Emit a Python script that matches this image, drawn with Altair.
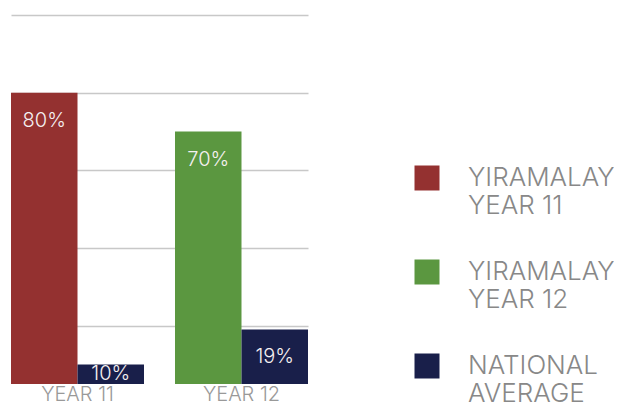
import altair as alt
import pandas as pd

years = ["YEAR 11", "YEAR 11", "YEAR 12", "YEAR 12"]
groups = ["Yiramalay", "National", "Yiramalay", "National"]
series = ["YIRAMALAY\nYEAR 11", "NATIONAL\nAVERAGE", "YIRAMALAY\nYEAR 12", "NATIONAL\nAVERAGE"]
values = [80, 10, 70, 19]
series_order = ["YIRAMALAY\nYEAR 11", "YIRAMALAY\nYEAR 12", "NATIONAL\nAVERAGE"]
colors = ["#943130", "#5b9740", "#191f4a"]
grid_values = [20, 40, 60, 80, 100]

df = pd.DataFrame({"year": years, "group": groups, "series": series, "value": values})

FONT = "Inter"

x = alt.X(
    "year:N",
    scale=alt.Scale(paddingInner=0.189, paddingOuter=0),
    axis=alt.Axis(title=None, labelAngle=0, ticks=False, domain=False, grid=False,
                  labelFont=FONT, labelFontWeight=300, labelFontSize=20,
                  labelColor="#999999", labelPadding=0),
)
xo = alt.XOffset("group:N", sort=["Yiramalay", "National"],
                 scale=alt.Scale(paddingInner=0, paddingOuter=0))
yscale = alt.Scale(domain=[5, 100], nice=False, zero=False)
yaxis = alt.Axis(title=None, values=grid_values, labels=False, ticks=False,
                 domain=False, grid=True, gridColor="#c8c8c8", gridWidth=1.6)
color = alt.Color(
    "series:N",
    scale=alt.Scale(domain=series_order, range=colors),
    legend=alt.Legend(
        title=None, orient="none", legendX=403, legendY=150, padding=0,
        symbolType="square", symbolSize=625, symbolStrokeWidth=0,
        labelFont=FONT, labelFontWeight=300, labelFontSize=26,
        labelColor="#888888", labelOffset=28, rowPadding=40,
        labelLimit=400, labelExpr="split(datum.label, '\\n')",
    ),
)

bars = alt.Chart(df).mark_bar(clip=True).encode(
    x=x, xOffset=xo, y=alt.Y("value:Q", scale=yscale, axis=yaxis), color=color
)

labels = (
    alt.Chart(df)
    .transform_calculate(
        label="datum.value + '%'",
        label_y="datum.value > 30 ? datum.value - 7.3 : (datum.value + 5) / 2",
    )
    .mark_text(font=FONT, fontWeight=300, fontSize=20, color="#f5f0f0", baseline="middle")
    .encode(x=x, xOffset=xo, y=alt.Y("label_y:Q", scale=yscale, axis=yaxis), text="label:N")
)

chart = (
    alt.layer(bars, labels)
    .properties(
        width=297, height=369,
        autosize=alt.AutoSizeParams(type="none"),
        padding={"left": 3, "top": 7, "right": 306, "bottom": 18},
    )
    .configure_view(stroke=None)
)

chart.save("out.html", embed_options={"renderer": "svg", "actions": False})
